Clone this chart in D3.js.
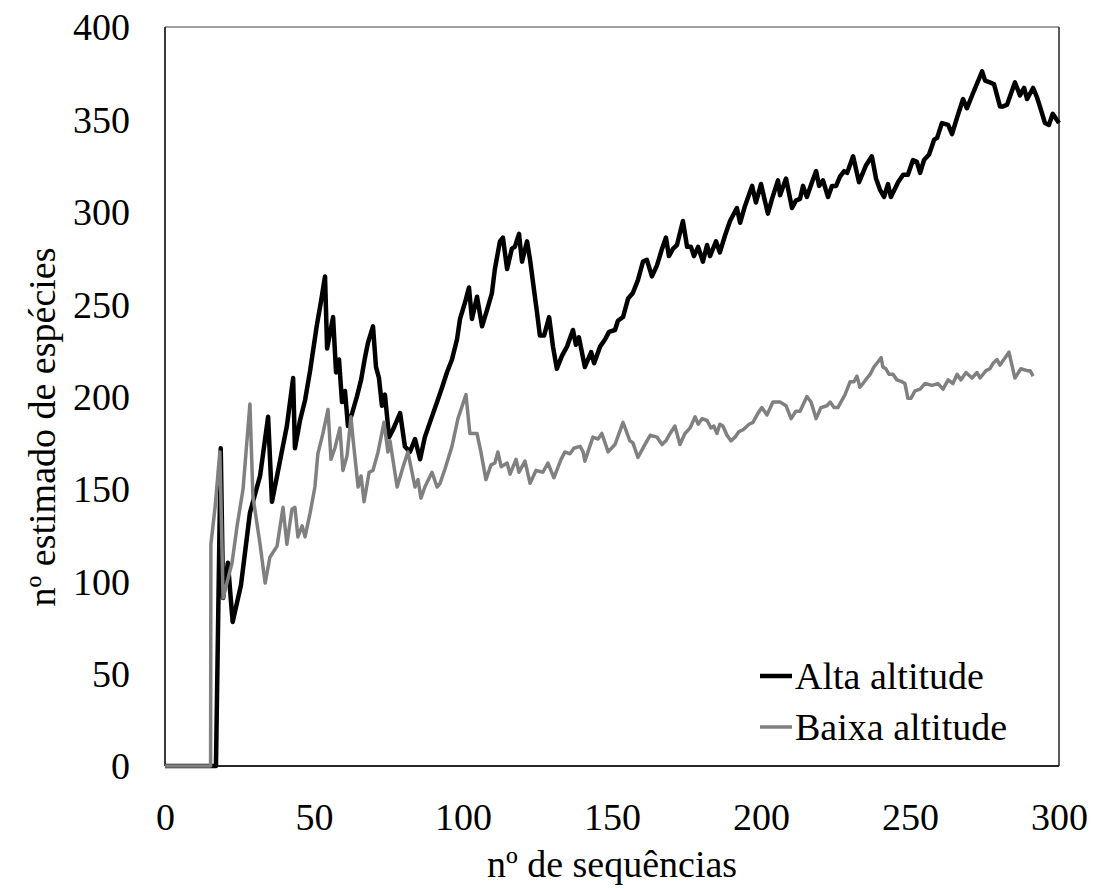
<!DOCTYPE html>
<html>
<head>
<meta charset="utf-8">
<script src="https://cdn.jsdelivr.net/npm/d3@7"></script>
<style>
  html, body { margin: 0; padding: 0; background: #fff; }
  svg text { font-family: "Liberation Serif", "Times New Roman", serif; fill: #000; }
</style>
</head>
<body>
<svg id="chart" width="1094" height="892"></svg>
<script>
// Estimated number of species vs. number of sequences, two altitude groups.
const seriesNames = ["Alta altitude", "Baixa altitude"];
const xTicks = [0, 50, 100, 150, 200, 250, 300];
const yTicks = [0, 50, 100, 150, 200, 250, 300, 350, 400];

// High altitude: sequence count and estimate
const altaSeq = [0,17.1,18.7,19.5,21.1,22.7,25.5,28.5,31.9,34.6,35.9,37.6,39.3,40.9,43.0,43.6,45.3,47.0,48.7,49.7,51.0,52.3,53.7,54.4,56.4,57.4,58.4,59.4,60.4,61.4,62.8,64.4,65.8,67.1,68.1,69.8,70.8,71.8,72.8,73.8,75.2,76.5,78.9,80.5,82.2,83.9,85.6,87.2,88.9,91.3,93.0,94.6,96.3,98.0,99.0,100.7,102.0,103.0,104.7,106.4,108.1,109.7,110.7,112.4,113.4,114.8,116.4,117.4,118.8,119.8,121.5,122.5,123.8,124.8,125.8,127.2,128.9,130.2,131.5,133.2,134.9,136.9,137.9,138.9,140.9,143.0,144.0,146.0,147.7,149.0,151.0,152.0,153.7,155.4,157.0,158.7,160.4,161.7,163.4,165.1,166.8,168.1,169.1,170.5,171.8,173.8,175.2,176.5,177.5,178.9,180.5,181.9,182.9,184.9,186.2,187.9,189.6,191.9,193.0,194.6,197.0,198.3,200.0,202.3,203.7,205.7,206.4,208.4,210.4,211.7,213.1,214.1,215.4,217.1,218.5,219.5,220.8,222.5,223.8,225.2,226.5,227.9,228.9,230.9,232.9,235.2,237.2,238.6,239.9,241.3,242.6,243.6,246.0,247.7,249.3,251.0,252.3,253.4,254.7,256.4,258.1,259.1,260.7,262.8,264.1,265.8,266.4,267.8,269.1,271.1,274.2,275.2,276.8,278.2,280.2,281.2,282.6,285.2,286.2,286.9,288.3,289.3,291.3,292.6,293.6,295.3,296.6,297.9,300];
const altaEst = [0,0,172,91,110,78,98,137,157,189,143,157,171,184,210,172,187,198,214,225,239,251,265,226,243,213,220,197,203,184,191,200,209,221,229,238,216,210,195,201,178,182,191,173,170,177,166,178,186,197,205,213,220,231,242,251,259,242,254,238,247,256,269,284,286,269,280,281,288,273,284,274,258,246,233,233,243,227,215,222,227,236,228,232,216,224,218,227,231,235,236,241,243,253,256,263,273,274,265,271,280,286,276,280,282,295,281,281,276,281,273,282,276,284,278,287,295,302,294,303,314,305,315,299,307,317,309,318,302,306,307,314,308,316,322,314,317,308,314,314,319,322,321,330,316,325,330,318,312,308,315,308,316,320,320,328,327,321,328,331,339,340,348,347,342,351,354,361,356,364,376,371,370,369,357,357,358,370,366,363,367,361,367,362,357,348,347,353,348];

// Low altitude: sequence count and estimate
const baixaSeq = [0,15.3,15.4,16.8,18.4,19.5,22.5,24.2,26.2,28.5,29.5,31.9,33.6,35.2,37.6,39.6,40.9,42.6,43.6,44.6,46.0,47.0,48.7,50.3,51.3,53.0,54.7,55.7,57.0,58.7,59.7,61.1,62.4,63.1,64.8,65.8,66.8,68.5,69.8,71.5,73.5,74.8,75.5,77.9,79.9,81.5,83.9,84.9,85.9,87.2,89.6,91.3,92.3,94.0,96.3,98.3,101.0,102.3,104.7,106.0,107.7,109.4,110.7,111.7,112.8,114.8,115.8,117.8,118.8,120.8,122.5,124.5,126.8,128.5,130.5,132.9,134.2,135.9,137.2,139.3,140.3,140.9,143.6,145.3,146.6,148.7,151.0,153.7,156.0,157.0,158.7,160.7,162.8,165.1,166.8,168.1,169.5,171.1,172.8,174.5,176.2,177.9,178.9,180.2,181.9,183.2,184.2,185.2,186.2,187.2,188.6,189.9,191.3,192.6,194.0,196.0,197.3,199.0,200.3,202.0,204.0,206.4,208.4,210.1,211.7,213.1,215.4,216.8,218.5,220.1,222.1,223.2,224.5,225.8,228.2,229.9,231.2,232.2,233.2,234.2,235.6,236.6,237.9,238.9,240.3,240.9,241.9,243.0,244.3,245.6,247.3,248.3,249.3,250.3,251.7,253.4,255.0,257.4,259.4,261.1,262.8,264.4,265.8,267.1,268.8,270.8,272.5,273.5,275.5,276.8,277.9,279.2,280.2,281.5,283.2,285.2,287.2,289.3,290.3,291.3];
const baixaEst = [0,0,120,140,170,91,110,130,150,196,146,120,99,113,119,140,120,139,140,124,130,124,137,151,169,180,193,166,172,183,160,168,189,177,151,157,143,159,160,170,186,170,176,151,162,170,151,155,145,151,159,151,153,161,173,188,201,180,180,170,155,163,164,170,162,164,158,166,159,165,153,160,159,164,156,166,170,169,172,173,170,165,178,177,180,170,174,186,176,175,167,173,179,178,174,176,180,184,174,180,183,189,185,188,187,183,184,180,185,184,179,176,178,181,182,185,186,191,194,190,197,197,195,188,192,192,200,197,188,194,195,197,194,194,201,208,208,211,205,207,210,212,216,218,221,216,215,212,212,209,208,207,199,199,203,204,207,206,207,204,209,207,212,209,213,210,213,210,214,215,218,220,217,220,224,210,215,214,214,211];

const svg = d3.select("#chart");
const plot = { left: 165, right: 1059, top: 27, bottom: 766 };

const x = d3.scaleLinear().domain([0, 300]).range([plot.left, plot.right]);
const y = d3.scaleLinear().domain([0, 400]).range([plot.bottom, plot.top]);

const fontSize = 38;

// Plot frame
svg.append("line").attr("x1", plot.left).attr("x2", plot.right).attr("y1", plot.top).attr("y2", plot.top)
  .attr("stroke", "#808080").attr("stroke-width", 1.5);
svg.append("line").attr("x1", plot.right).attr("x2", plot.right).attr("y1", plot.top).attr("y2", plot.bottom)
  .attr("stroke", "#262626").attr("stroke-width", 1.5);
svg.append("line").attr("x1", plot.left).attr("x2", plot.left).attr("y1", plot.top).attr("y2", plot.bottom)
  .attr("stroke", "#262626").attr("stroke-width", 1.8);
svg.append("line").attr("x1", plot.left).attr("x2", plot.right).attr("y1", plot.bottom).attr("y2", plot.bottom)
  .attr("stroke", "#262626").attr("stroke-width", 1.8);

// Axes (labels only)
const xAxis = svg.append("g").attr("transform", `translate(0,${plot.bottom})`)
  .call(d3.axisBottom(x).tickValues(xTicks).tickSize(0).tickFormat(d3.format("d")));
xAxis.select(".domain").remove();
xAxis.selectAll("text").attr("dy", null).attr("y", 64)
  .style("font-size", fontSize + "px").style("font-family", "'Liberation Serif', serif");

const yAxis = svg.append("g").attr("transform", `translate(${plot.left},0)`)
  .call(d3.axisLeft(y).tickValues(yTicks).tickSize(0).tickFormat(d3.format("d")));
yAxis.select(".domain").remove();
yAxis.selectAll("text").attr("x", -35).attr("dy", "0.34em")
  .style("font-size", fontSize + "px").style("font-family", "'Liberation Serif', serif");

// Axis titles
svg.append("text").attr("x", (plot.left + plot.right) / 2).attr("y", 877)
  .attr("text-anchor", "middle").style("font-size", fontSize + "px")
  .text("nº de sequências");
svg.append("text").attr("transform", "translate(55,427) rotate(-90)")
  .attr("text-anchor", "middle").style("font-size", fontSize + "px")
  .text("nº estimado de espécies");

// Series lines
const line = d3.line().x(d => x(d[0])).y(d => y(d[1]));
const alta = altaSeq.map((s, i) => [s, altaEst[i]]);
const baixa = baixaSeq.map((s, i) => [s, baixaEst[i]]);

svg.append("path").datum(alta).attr("d", line)
  .attr("fill", "none").attr("stroke", "#000").attr("stroke-width", 4.5)
  .attr("stroke-linejoin", "round");
svg.append("path").datum(baixa).attr("d", line)
  .attr("fill", "none").attr("stroke", "#808080").attr("stroke-width", 3.5)
  .attr("stroke-linejoin", "round");

// Legend
const legend = svg.append("g");
const legendItems = [
  { name: seriesNames[0], color: "#000", width: 4.5, cy: 676 },
  { name: seriesNames[1], color: "#808080", width: 3.5, cy: 727 }
];
legendItems.forEach(item => {
  legend.append("line").attr("x1", 760).attr("x2", 792).attr("y1", item.cy).attr("y2", item.cy)
    .attr("stroke", item.color).attr("stroke-width", item.width);
  legend.append("text").attr("x", 795).attr("y", item.cy + 13)
    .style("font-size", fontSize + "px").text(item.name);
});
</script>
</body>
</html>
